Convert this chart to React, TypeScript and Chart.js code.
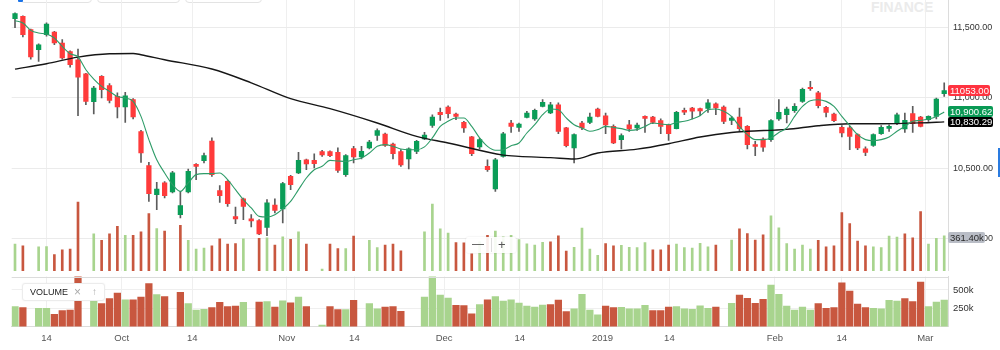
import React, { useEffect, useRef } from "react";
import { Chart, registerables } from "chart.js";

Chart.register(...registerables);

const FONT = "'Liberation Sans', Arial, Helvetica, sans-serif";

// ---- daily candles (trading-day index 0..118) ----
const opens = [
  11564, 11580, 11486, 11343, 11450, 11469, 11391, 11331, 11272, 11171,
  10974, 11154, 11088, 11012, 10936, 10988, 10761, 10519, 10313, 10396,
  10332, 10170, 10332, 10528, 10554, 10694, 10341, 10407, 10156, 10282,
  10140, 10128, 10080, 10239, 10211, 10443, 10467, 10561, 10556, 10618,
  10618, 10613, 10455, 10640, 10581, 10645, 10734, 10744, 10673, 10618,
  10566, 10620, 10709, 10805, 10898, 10936, 10886, 10827, 10723, 10652,
  10514, 10353, 10585, 10822, 10791, 10862, 10851, 10940, 10893, 10952,
  10787, 10645, 10822, 10827, 10922, 10874, 10798, 10704, 10810, 10787,
  10869, 10865, 10839, 10810, 10782, 10912, 10928, 10924, 10926, 10958,
  10936, 10841, 10865, 10798, 10668, 10708, 10704, 10851, 10881, 10910,
  10976, 11076, 11036, 10933, 10886, 10791, 10787, 10739, 10638, 10663,
  10746, 10784, 10817, 10780, 10889, 10865, 10846, 10869, 11031,
];
const highs = [
  11605, 11585, 11490, 11385, 11535, 11475, 11415, 11335, 11348, 11175,
  11083, 11160, 11102, 11036, 11040, 10995, 10770, 10542, 10400, 10405,
  10478, 10336, 10495, 10533, 10609, 10716, 10377, 10412, 10225, 10289,
  10170, 10135, 10277, 10282, 10400, 10450, 10613, 10566, 10602, 10627,
  10625, 10645, 10597, 10656, 10656, 10699, 10780, 10750, 10680, 10633,
  10645, 10699, 10756, 10881, 10929, 10945, 10893, 10834, 10728, 10713,
  10561, 10571, 10755, 10841, 10822, 10905, 10922, 10988, 10969, 10965,
  10791, 10746, 10834, 10893, 10929, 10893, 10810, 10746, 10841, 10822,
  10874, 10869, 10851, 10815, 10905, 10929, 10933, 10929, 10988, 10965,
  10945, 10869, 10929, 10803, 10692, 10716, 10846, 10988, 10936, 10960,
  11071, 11118, 11047, 10940, 10893, 10803, 10798, 10746, 10652, 10746,
  10803, 10810, 10893, 10893, 10940, 10869, 10874, 11000, 11107,
];
const lows = [
  11500, 11434, 11277, 11260, 11440, 11379, 11277, 11220, 10874, 10952,
  10886, 11000, 10965, 10858, 10827, 10851, 10542, 10265, 10206, 10289,
  10325, 10147, 10325, 10419, 10538, 10443, 10258, 10229, 10106, 10135,
  10083, 10028, 10021, 10182, 10111, 10348, 10462, 10490, 10502, 10585,
  10583, 10471, 10443, 10538, 10566, 10637, 10699, 10656, 10566, 10514,
  10495, 10604, 10704, 10791, 10841, 10858, 10846, 10756, 10590, 10637,
  10478, 10336, 10580, 10755, 10763, 10858, 10841, 10936, 10888, 10746,
  10652, 10538, 10775, 10817, 10865, 10746, 10675, 10638, 10763, 10770,
  10755, 10817, 10746, 10699, 10780, 10881, 10851, 10874, 10898, 10881,
  10817, 10810, 10763, 10638, 10590, 10620, 10692, 10841, 10822, 10898,
  10969, 11054, 10929, 10865, 10832, 10723, 10633, 10633, 10590, 10656,
  10741, 10763, 10810, 10755, 10755, 10794, 10834, 10851, 11011,
];
const closes = [
  11600, 11450, 11292, 11379, 11526, 11391, 11285, 11237, 11149, 10976,
  11071, 11059, 10983, 10936, 11016, 10865, 10609, 10320, 10353, 10305,
  10467, 10234, 10478, 10514, 10590, 10455, 10305, 10249, 10140, 10229,
  10126, 10033, 10254, 10201, 10391, 10384, 10556, 10531, 10533, 10595,
  10590, 10485, 10590, 10581, 10620, 10687, 10768, 10663, 10604, 10524,
  10638, 10692, 10737, 10865, 10881, 10889, 10869, 10787, 10604, 10704,
  10490, 10561, 10746, 10798, 10815, 10893, 10912, 10969, 10952, 10763,
  10661, 10739, 10787, 10865, 10869, 10808, 10680, 10732, 10780, 10808,
  10855, 10827, 10798, 10746, 10898, 10900, 10906, 10908, 10965, 10929,
  10834, 10858, 10782, 10668, 10656, 10650, 10839, 10898, 10922, 10940,
  11062, 11066, 10945, 10898, 10839, 10751, 10727, 10645, 10613, 10739,
  10791, 10798, 10881, 10841, 10817, 10798, 10869, 10993, 11053,
];
const volumes: (number | null)[] = [
  275000, 258000, null, 248000, 251000, 168000, 218000, 225000, 707000, null,
  382000, 315000, 382000, 459000, 365000, 365000, 402000, 589000, 436000, 409000,
  null, 469000, 315000, 225000, 235000, 258000, 331000, 275000, 281000, 331000,
  null, 335000, 341000, 265000, 351000, 325000, 402000, 275000, null, 20000,
  275000, 231000, 231000, 358000, null, 315000, 241000, 265000, 275000, 208000,
  null, null, 402000, 687000, 432000, 389000, 291000, 288000, 175000, 300000,
  365000, 410000, 350000, 365000, 322000, 279000, 266000, 293000, 300000, 362000,
  205000, 243000, 441000, 226000, 161000, 281000, 258000, 264000, 243000, 241000,
  291000, 218000, 218000, 265000, 275000, 241000, 235000, 285000, 248000, 265000,
  null, 318000, 432000, 385000, 318000, 371000, 566000, 442000, 281000, 225000,
  265000, 225000, 315000, 248000, 258000, 599000, 486000, 308000, 258000, 248000,
  241000, 358000, 348000, 382000, 341000, 609000, 275000, 335000, 361400,
];
// short moving average (green), one value per day
const maFast = [
  11550, 11533, 11481, 11462, 11455, 11427, 11367, 11315, 11292, 11201,
  11135, 11083, 11047, 11011, 11000, 10976, 10869, 10704, 10560, 10467,
  10384, 10336, 10396, 10455, 10462, 10462, 10467, 10419, 10348, 10277,
  10218, 10158, 10154, 10170, 10211, 10265, 10348, 10431, 10490, 10514,
  10556, 10552, 10549, 10561, 10573, 10609, 10656, 10668, 10656, 10637,
  10632, 10632, 10652, 10716, 10798, 10834, 10858, 10858, 10798, 10716,
  10656, 10628, 10632, 10661, 10680, 10751, 10810, 10881, 10922, 10917,
  10858, 10810, 10787, 10763, 10775, 10798, 10791, 10782, 10770, 10775,
  10798, 10822, 10815, 10810, 10826, 10834, 10851, 10874, 10917, 10922,
  10905, 10869, 10798, 10739, 10704, 10704, 10716, 10755, 10787, 10869,
  10940, 10981, 10988, 10976, 10940, 10869, 10803, 10739, 10704, 10696,
  10704, 10723, 10763, 10798, 10834, 10840, 10850, 10869, 10900.62,
];
// long moving average (black), read at these day indices
const maSlowIdx = [0, 4, 8, 12, 15, 16, 19, 25, 30, 35, 40, 46, 51, 55, 62, 64, 68, 71, 74, 79, 83, 87, 91, 93, 98, 102, 106, 110, 115, 118];
const maSlow = [
  11205, 11244, 11291, 11315, 11317, 11308, 11272, 11206, 11108, 10995,
  10924, 10822, 10727, 10680, 10594, 10585, 10576, 10566, 10609, 10636,
  10675, 10723, 10755, 10763, 10777, 10803, 10817, 10817, 10823, 10830.29,
];
// x-axis tick labels at day-index positions
const xTickPos = [4, 13.55, 22.5, 34.5, 43.1, 54.5, 64.1, 74.6, 83.1, 96.5, 105, 115.6];
const xTickLabels = ["14", "Oct", "14", "Nov", "14", "Dec", "14", "2019", "14", "Feb", "14", "Mar"];
const priceTicks = [10000, 10500, 11000, 11500];
const volTicks = [250000, 500000];

// ---- scales / layout ----
const X_MIN = -0.42;
const X_MAX = 118.48;
const PRICE_MIN = 9769.5;
const PRICE_MAX = 11697;
const OVERLAY_VOL_MAX = 2780000;
const PANEL_VOL_MAX = 684000;
const MAIN_H = 271;
const PANEL_H = 79;
const AXIS_W = 52;
const LEFT_PAD = 11.7;

const UP = "#0a9d57";
const DOWN = "#ff3b3b";
const WICK = "#5c5c5c";
const VOL_UP = "#a8d48e";
const VOL_DOWN = "#c8573f";
const GRID = "#efefef";
const BORDER = "#dcdcdc";

const fmtPrice = (v: number) =>
  v.toLocaleString("en-US", { minimumFractionDigits: 2, maximumFractionDigits: 2 });

const n = closes.length;
const bodyPts = closes.map((c, i) => ({ x: i, y: [opens[i], c] }));
const bodyCols = closes.map((c, i) => (c >= opens[i] ? UP : DOWN));
const wickPts = closes.map((_, i) => ({ x: i, y: [lows[i], highs[i]] }));
const volPts: { x: number; y: number }[] = [];
const volCols: string[] = [];
volumes.forEach((v, i) => {
  if (v == null) return;
  volPts.push({ x: i, y: v });
  volCols.push(i === 0 || closes[i] >= closes[i - 1] ? VOL_UP : VOL_DOWN);
});
const fastPts = maFast.map((v, i) => ({ x: i, y: v }));
const slowPts = maSlowIdx.map((x, k) => ({ x, y: maSlow[k] }));

const noPad = (s: any) => {
  s.paddingTop = 0;
  s.paddingBottom = 0;
  s.paddingLeft = 0;
  s.paddingRight = 0;
};

const xScale = (labels: boolean): any => ({
  type: "linear",
  min: X_MIN,
  max: X_MAX,
  offset: false,
  afterBuildTicks: (s: any) => {
    s.ticks = xTickPos.map((v) => ({ value: v }));
  },
  afterFit: (s: any) => {
    s.height = labels ? PANEL_H - 55.6 : 0;
    noPad(s);
  },
  grid: { color: GRID, drawTicks: false, offset: false },
  border: { display: true, color: BORDER },
  ticks: {
    display: labels,
    autoSkip: false,
    maxRotation: 0,
    padding: 5.7,
    color: "#555",
    font: { family: FONT, size: 9.5 },
    callback: (_v: any, i: number) => xTickLabels[i],
  },
});

const panelTopLine = {
  id: "panelTopLine",
  afterDraw(chart: any) {
    const { ctx, chartArea } = chart;
    ctx.save();
    ctx.strokeStyle = BORDER;
    ctx.lineWidth = 1;
    ctx.beginPath();
    const y = Math.round(chartArea.top) + 0.5;
    ctx.moveTo(chartArea.left, y);
    ctx.lineTo(chartArea.right, y);
    ctx.stroke();
    ctx.restore();
  },
};

const priceY = (v: number) => ((PRICE_MAX - v) / (PRICE_MAX - PRICE_MIN)) * MAIN_H;
const volY = (v: number) => MAIN_H - (v / OVERLAY_VOL_MAX) * MAIN_H;

const tagBase: React.CSSProperties = {
  position: "absolute",
  left: 948,
  height: 11,
  lineHeight: "11px",
  fontSize: 9.5,
  fontFamily: FONT,
  padding: "0 1px 0 2px",
  borderRadius: 2,
  whiteSpace: "nowrap",
  boxSizing: "border-box",
};

export default function App() {
  const mainRef = useRef<HTMLCanvasElement>(null);
  const volRef = useRef<HTMLCanvasElement>(null);

  useEffect(() => {
    const main = new Chart(mainRef.current as HTMLCanvasElement, {
      type: "bar",
      data: {
        datasets: [
          {
            type: "line",
            data: fastPts,
            borderColor: "#2e9c68",
            borderWidth: 1.1,
            pointRadius: 0,
            cubicInterpolationMode: "monotone",
            order: 1,
            xAxisID: "x",
            yAxisID: "y",
          },
          {
            type: "line",
            data: slowPts,
            borderColor: "#161616",
            borderWidth: 1.4,
            pointRadius: 0,
            cubicInterpolationMode: "monotone",
            order: 2,
            xAxisID: "x",
            yAxisID: "y",
          },
          {
            type: "bar",
            data: bodyPts,
            backgroundColor: bodyCols,
            barThickness: 4.6,
            grouped: false,
            minBarLength: 1,
            borderWidth: 0,
            order: 3,
            xAxisID: "x",
            yAxisID: "y",
          },
          {
            type: "bar",
            data: wickPts,
            backgroundColor: WICK,
            barThickness: 1,
            grouped: false,
            borderWidth: 0,
            order: 4,
            xAxisID: "x",
            yAxisID: "y",
          },
          {
            type: "bar",
            data: volPts,
            backgroundColor: volCols,
            barThickness: 2,
            grouped: false,
            borderWidth: 0,
            order: 5,
            xAxisID: "x",
            yAxisID: "yv",
          },
        ],
      } as any,
      options: {
        responsive: false,
        animation: false,
        devicePixelRatio: 1,
        events: [],
        layout: { padding: { left: LEFT_PAD, right: 0, top: 0, bottom: 0 } },
        plugins: { legend: { display: false }, tooltip: { enabled: false } },
        scales: {
          x: xScale(false),
          y: {
            type: "linear",
            position: "right",
            min: PRICE_MIN,
            max: PRICE_MAX,
            afterBuildTicks: (s: any) => {
              s.ticks = priceTicks.map((v) => ({ value: v }));
            },
            afterFit: (s: any) => {
              s.width = AXIS_W;
              noPad(s);
            },
            grid: { color: "#ebebeb", drawTicks: false },
            border: { display: true, color: BORDER },
            ticks: {
              padding: 5,
              color: "#333",
              font: { family: FONT, size: 9 },
              callback: (v: any) => fmtPrice(Number(v)),
            },
          },
          yv: {
            type: "linear",
            display: false,
            min: 0,
            max: OVERLAY_VOL_MAX,
          },
        } as any,
      },
    } as any);

    const panel = new Chart(volRef.current as HTMLCanvasElement, {
      type: "bar",
      data: {
        datasets: [
          {
            data: volPts,
            backgroundColor: volCols,
            barThickness: 6.6,
            grouped: false,
            borderWidth: 0,
            xAxisID: "x",
            yAxisID: "y",
          },
        ],
      } as any,
      options: {
        responsive: false,
        animation: false,
        devicePixelRatio: 1,
        events: [],
        layout: { padding: { left: LEFT_PAD, right: 0, top: 5.5, bottom: 0 } },
        plugins: { legend: { display: false }, tooltip: { enabled: false } },
        scales: {
          x: xScale(true),
          y: {
            type: "linear",
            position: "right",
            min: 0,
            max: PANEL_VOL_MAX,
            afterBuildTicks: (s: any) => {
              s.ticks = volTicks.map((v) => ({ value: v }));
            },
            afterFit: (s: any) => {
              s.width = AXIS_W;
              noPad(s);
            },
            grid: { color: GRID, drawTicks: false },
            border: { display: true, color: BORDER },
            ticks: {
              padding: 5,
              color: "#333",
              font: { family: FONT, size: 9.5 },
              callback: (v: any) => Number(v) / 1000 + "k",
            },
          },
        } as any,
      },
      plugins: [panelTopLine],
    } as any);

    return () => {
      main.destroy();
      panel.destroy();
    };
  }, []);

  const lastClose = closes[n - 1];
  const lastFast = maFast[maFast.length - 1];
  const lastSlow = maSlow[maSlow.length - 1];
  const lastVol = volumes[n - 1] as number;

  return (
    <div
      style={{
        position: "absolute",
        left: 0,
        top: 0,
        width: 1000,
        height: 350,
        overflow: "hidden",
        background: "#fff",
        fontFamily: FONT,
      }}
    >
      {/* watermark */}
      <div
        style={{
          position: "absolute",
          left: 871,
          top: 0,
          fontSize: 14,
          fontWeight: "bold",
          lineHeight: "14px",
          color: "#ebebeb",
        }}
      >
        FINANCE
      </div>
      {/* top tabs (cut off) */}
      {[
        [20, 72],
        [97, 83],
        [185, 77],
      ].map(([l, w], k) => (
        <div
          key={k}
          style={{
            position: "absolute",
            left: l,
            top: -10,
            width: w,
            height: 13,
            border: "1px solid #e3e3e3",
            borderRadius: 4,
            boxSizing: "border-box",
            background: "#fff",
          }}
        />
      ))}
      <div style={{ position: "absolute", left: 18, top: -1, width: 5, height: 3, background: "#1a73e8", borderRadius: 1 }} />

      <canvas
        ref={mainRef}
        width={1000}
        height={MAIN_H}
        style={{ position: "absolute", left: 0, top: 0, width: 1000, height: MAIN_H }}
      />
      <canvas
        ref={volRef}
        width={1000}
        height={PANEL_H}
        style={{ position: "absolute", left: 0, top: MAIN_H, width: 1000, height: PANEL_H }}
      />

      {/* last-value tags */}
      <div style={{ ...tagBase, top: priceY(lastClose) - 5.5, background: "#ff3340", color: "#fff" }}>
        {lastClose.toFixed(2)}
      </div>
      <div style={{ ...tagBase, top: priceY(lastFast) - 6, background: "#0a9a55", color: "#fff" }}>
        {fmtPrice(lastFast)}
      </div>
      <div style={{ ...tagBase, top: priceY(lastSlow) - 5, height: 10.5, lineHeight: "10.5px", background: "#000", color: "#fff" }}>
        {fmtPrice(lastSlow)}
      </div>
      <div
        style={{
          ...tagBase,
          top: volY(lastVol) - 4,
          height: 11.6,
          lineHeight: "11.6px",
          background: "#b9bdc6",
          color: "#2a2a2a",
        }}
      >
        {(lastVol / 1000).toFixed(2) + "k"}
      </div>

      {/* zoom control */}
      <div
        style={{
          position: "absolute",
          left: 466,
          top: 237,
          width: 50,
          height: 16,
          background: "rgba(255,255,255,0.9)",
          borderRadius: 3,
          boxShadow: "0 0 2px rgba(0,0,0,0.12)",
        }}
      >
        <span style={{ position: "absolute", left: 6, top: 0, fontSize: 12, lineHeight: "15px", color: "#555" }}>—</span>
        <div style={{ position: "absolute", left: 25, top: 1, width: 1, height: 14, background: "#ddd" }} />
        <span style={{ position: "absolute", left: 32, top: 0, fontSize: 13, lineHeight: "15px", color: "#555" }}>+</span>
      </div>

      {/* volume legend */}
      <div
        style={{
          position: "absolute",
          left: 22,
          top: 283,
          width: 83,
          height: 18,
          background: "#fff",
          border: "1px solid #ececec",
          borderRadius: 3,
          boxSizing: "border-box",
          boxShadow: "0 0 2px rgba(0,0,0,0.06)",
        }}
      >
        <span style={{ position: "absolute", left: 7, top: 0, fontSize: 9, lineHeight: "16px", color: "#222" }}>VOLUME</span>
        <span style={{ position: "absolute", left: 51, top: 0, fontSize: 12, lineHeight: "16px", color: "#aaa" }}>×</span>
        <span style={{ position: "absolute", left: 69, top: 0, fontSize: 10, lineHeight: "16px", color: "#aaa" }}>↑</span>
      </div>

      {/* edge marker */}
      <div style={{ position: "absolute", left: 998, top: 148, width: 3, height: 29, background: "#2a7be0" }} />
    </div>
  );
}
